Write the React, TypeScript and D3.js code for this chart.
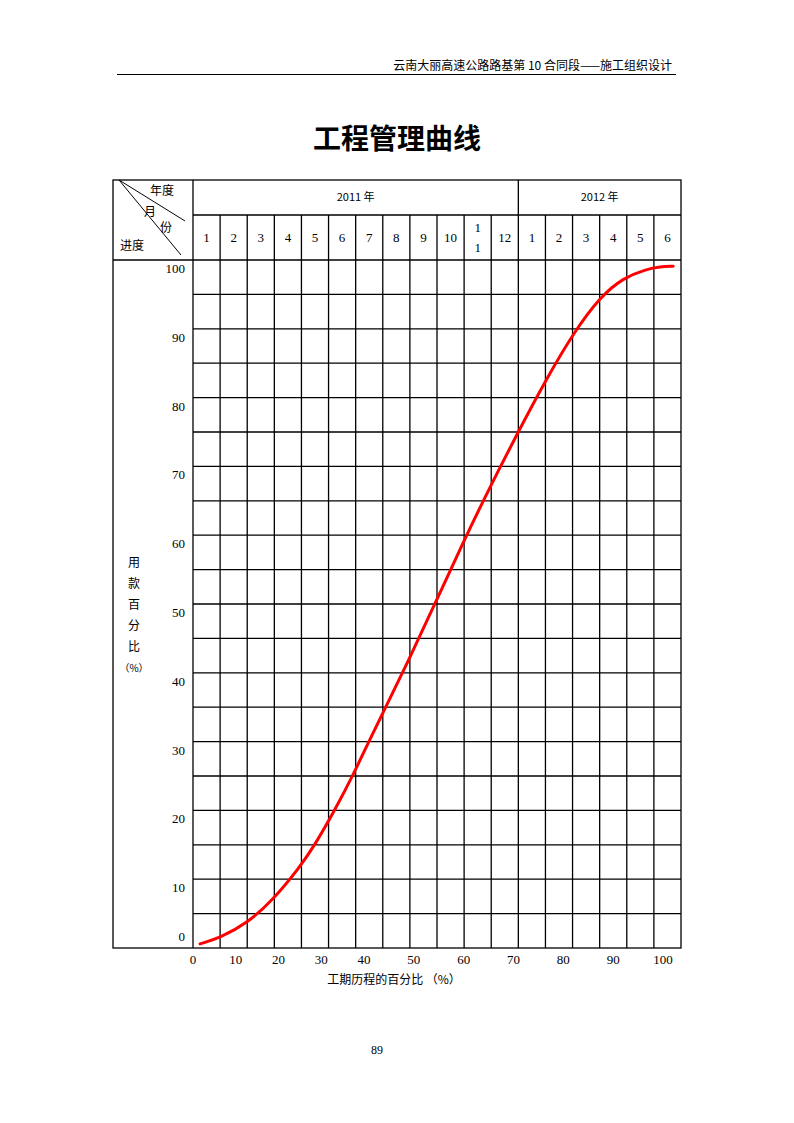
import * as d3 from 'd3'

// 工程管理曲线: S-curve of spending % against construction months,
// drawn on a table grid like the Word page it comes from.

const YEARS = ['2011 年', '2012 年']
const YEAR_MONTHS = [12, 6]
const MONTHS = ['1', '2', '3', '4', '5', '6', '7', '8', '9', '10', '11', '12', '1', '2', '3', '4', '5', '6']
const Y_TICKS = [0, 10, 20, 30, 40, 50, 60, 70, 80, 90, 100]
const X_TICKS = [0, 10, 20, 30, 40, 50, 60, 70, 80, 90, 100]
// curve: elapsed months vs spending %
const CURVE_T = [0.26, 0.26, 1, 2, 2.95, 3.91, 4.5, 5.24, 5.9, 6.46, 6.97, 7.93, 8.93, 9.96, 10.7, 11.99, 13.02, 14.05, 15.01, 15.86, 16.75, 17.23, 17.71, 17.71]
const CURVE_V = [0.6, 0.6, 1.5, 3.6, 7.0, 11.6, 15.0, 20.1, 25.1, 29.8, 33.9, 41.6, 50.1, 58.9, 65.0, 75.0, 82.6, 89.5, 94.6, 97.4, 98.7, 99.0, 99.1, 99.1]
const Y_TITLE = ['用', '款', '百', '分', '比', '（%）']

const CJK = '"Noto Sans CJK SC", sans-serif'
const SERIF = '"Liberation Serif", serif'

export default function App() {
  const W = 794
  const H = 1123
  const left = 113
  const right = 681
  const top = 180
  const yearBottom = 215
  const headBottom = 260
  const bottom = 948
  const plotLeft = 193

  const x = d3.scaleBand<number>().domain(d3.range(MONTHS.length)).range([plotLeft, right])
  const t = d3.scaleLinear().domain([0, MONTHS.length]).range([plotLeft, right])
  const y = d3.scaleLinear().domain([0, 100]).range([bottom, headBottom])
  // the printed percentage ticks are not evenly spaced under the grid
  const xp = d3.scaleLinear().domain([0, 40, 100]).range([193, 364, 663])

  const pts = CURVE_T.map((m, i) => [t(m), y(CURVE_V[i])] as [number, number])
  const path = d3.line().curve(d3.curveBasis)(pts)

  const rowTicks = d3.range(5, 100, 5)
  let acc = 0
  const yearCells = YEARS.map((label, i) => {
    const a = acc
    acc += YEAR_MONTHS[i]
    return { label, x0: t(a), x1: t(acc) }
  })

  const stroke = '#000'
  const sw = 1.3

  return (
    <svg width={W} height={H} viewBox={`0 0 ${W} ${H}`} style={{ position: 'absolute', left: 0, top: 0, background: '#fff' }}>
      <text x={672} y={70} textAnchor="end" fontFamily={CJK} fontSize={12} fill="#000">
        云南大丽高速公路路基第 10 合同段——施工组织设计
      </text>
      <line x1={117} x2={676} y1={74.5} y2={74.5} stroke={stroke} strokeWidth={1} />

      <text x={397} y={149} textAnchor="middle" fontFamily={CJK} fontWeight={600} fontSize={28} fill="#000">
        工程管理曲线
      </text>

      {/* grid */}
      {rowTicks.map((v) => (
        <line key={v} x1={plotLeft} x2={right} y1={y(v)} y2={y(v)} stroke={stroke} strokeWidth={sw} />
      ))}
      {d3.range(1, MONTHS.length).map((i) => (
        <line key={i} x1={t(i)} x2={t(i)} y1={yearBottom} y2={bottom} stroke={stroke} strokeWidth={sw} />
      ))}
      <line x1={t(YEAR_MONTHS[0])} x2={t(YEAR_MONTHS[0])} y1={top} y2={yearBottom} stroke={stroke} strokeWidth={sw} />
      <line x1={plotLeft} x2={right} y1={yearBottom} y2={yearBottom} stroke={stroke} strokeWidth={sw} />
      <line x1={left} x2={right} y1={headBottom} y2={headBottom} stroke={stroke} strokeWidth={sw} />
      <line x1={plotLeft} x2={plotLeft} y1={top} y2={bottom} stroke={stroke} strokeWidth={sw} />
      <rect x={left} y={top} width={right - left} height={bottom - top} fill="none" stroke={stroke} strokeWidth={sw} />

      {/* corner cell */}
      <line x1={119} y1={180} x2={185} y2={221} stroke={stroke} strokeWidth={1} />
      <line x1={119} y1={180} x2={181} y2={255} stroke={stroke} strokeWidth={1} />
      <g fontFamily={CJK} fontSize={12} fill="#000">
        <text x={150} y={195}>年度</text>
        <text x={144} y={216}>月</text>
        <text x={160} y={232}>份</text>
        <text x={120} y={250}>进度</text>
      </g>

      {yearCells.map((c) => (
        <text key={c.label} x={(c.x0 + c.x1) / 2} y={201} textAnchor="middle" fontFamily={CJK} fontSize={11} fill="#000">
          {c.label}
        </text>
      ))}

      {MONTHS.map((m, i) => {
        const cx = (x(i) ?? 0) + x.bandwidth() / 2
        if (m === '11')
          return (
            <g key={i} fontFamily={SERIF} fontSize={13} textAnchor="middle" fill="#000">
              <text x={cx} y={232}>1</text>
              <text x={cx} y={252}>1</text>
            </g>
          )
        return (
          <text key={i} x={cx} y={242} textAnchor="middle" fontFamily={SERIF} fontSize={13} fill="#000">
            {m}
          </text>
        )
      })}

      {Y_TICKS.map((v) => (
        <text
          key={v}
          x={185}
          y={v === 0 ? y(v) - 10 : y(v) + 10}
          textAnchor="end"
          dominantBaseline="middle"
          fontFamily={SERIF}
          fontSize={13}
          fill="#000"
        >
          {v}
        </text>
      ))}

      {Y_TITLE.map((s, i) => (
        <text key={i} x={134} y={567 + i * 21} textAnchor="middle" fontFamily={CJK} fontSize={i === 5 ? 10 : 12} fill="#000">
          {s}
        </text>
      ))}

      {X_TICKS.map((v) => (
        <text key={v} x={xp(v)} y={964} textAnchor="middle" fontFamily={SERIF} fontSize={13} fill="#000">
          {v}
        </text>
      ))}
      <text x={394} y={984} textAnchor="middle" fontFamily={CJK} fontSize={12} fill="#000">
        工期历程的百分比 （%）
      </text>

      {path && <path d={path} fill="none" stroke="#ff0000" strokeWidth={3} strokeLinecap="round" />}

      <text x={377} y={1054} textAnchor="middle" fontFamily={SERIF} fontSize={12} fill="#000">
        89
      </text>
    </svg>
  )
}
